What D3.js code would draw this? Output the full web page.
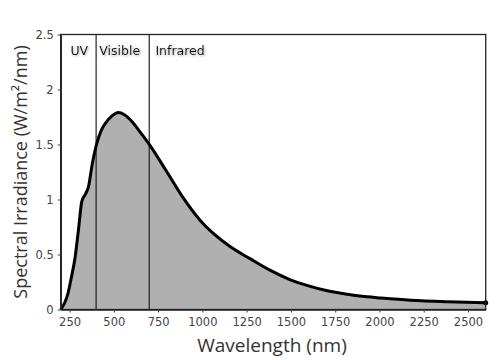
<!DOCTYPE html>
<html><head><meta charset="utf-8">
<script src="https://cdn.jsdelivr.net/npm/d3@7"></script>
<style>body{margin:0;background:#fff}svg{display:block}</style>
</head><body><svg id="c" width="500" height="360"></svg>
<script>
const wavelengths = [200,225,240,260,281,300,319,340,356,379,404,430,451,490,526,560,602,650,705,800,894,988,1070,1158,1271,1384,1497,1600,1705,1836,1931,2006,2176,2383,2600];
const irradiance  = [0,0.07,0.14,0.29,0.47,0.72,0.98,1.05,1.11,1.33,1.51,1.63,1.69,1.76,1.79,1.77,1.71,1.61,1.49,1.25,1.01,0.81,0.68,0.57,0.46,0.355,0.27,0.215,0.17,0.135,0.115,0.105,0.085,0.071,0.062];
const xTicks = [250,500,750,1000,1250,1500,1750,2000,2250,2500];
const yTicks = [0,0.5,1,1.5,2,2.5];
const yTickLabels = ["0","0.5","1","1.5","2","2.5"];
const bandEdges = [400,700];
const bandLabels = ["UV","Visible","Infrared"];
const bandLabelAt = [255,418,735];

const svg = d3.select("#c");
const L=60.7,R=485.7,T=34.5,B=309.5;
const x = d3.scaleLinear().domain([200,2600]).range([L,R]);
const y = d3.scaleLinear().domain([0,2.5]).range([B,T]);
const data = wavelengths.map((w,i)=>({w, v:irradiance[i]}));

const defs = svg.append("defs");
const f = defs.append("filter").attr("id","glow").attr("x","-20%").attr("y","-40%").attr("width","140%").attr("height","180%");
f.append("feDropShadow").attr("dx",0.8).attr("dy",0.8).attr("stdDeviation",1).attr("flood-color","#888").attr("flood-opacity",0.8);

svg.append("path").datum(data)
  .attr("d", d3.area().x(d=>x(d.w)).y0(y(0)).y1(d=>y(d.v)).curve(d3.curveMonotoneX))
  .attr("fill","#b0b0b0");

bandEdges.forEach(b=>{
  svg.append("line").attr("x1",x(b)).attr("x2",x(b)).attr("y1",T).attr("y2",B)
    .attr("stroke","#222").attr("stroke-width",1.2);
});

svg.append("path").datum(data)
  .attr("d", d3.line().x(d=>x(d.w)).y(d=>y(d.v)).curve(d3.curveMonotoneX))
  .attr("fill","none").attr("stroke","#000").attr("stroke-width",3).attr("stroke-linejoin","round");

svg.append("circle").attr("cx",x(wavelengths[wavelengths.length-1])).attr("cy",y(irradiance[irradiance.length-1])).attr("r",2.5).attr("fill","#000");

svg.append("rect").attr("x",L).attr("y",T).attr("width",R-L).attr("height",B-T)
  .attr("fill","none").attr("stroke","#222").attr("stroke-width",1.3);

const xa = svg.append("g").attr("transform",`translate(0,${B})`)
  .call(d3.axisBottom(x).tickValues(xTicks).tickFormat(d3.format("d")).tickSize(3).tickSizeOuter(0));
xa.select(".domain").attr("stroke","#222").attr("stroke-width",1.5);
xa.selectAll(".tick line").attr("stroke","#444");
xa.selectAll("text").attr("font-family","DejaVu Sans").attr("font-size","11.5px").attr("fill","#444").attr("dy","0.9em");

const ya = svg.append("g").attr("transform",`translate(${L},0)`)
  .call(d3.axisLeft(y).tickValues(yTicks).tickFormat((d,i)=>yTickLabels[i]).tickSize(3).tickSizeOuter(0));
ya.select(".domain").attr("stroke","#222").attr("stroke-width",1.5);
ya.selectAll(".tick line").attr("stroke","#444");
ya.selectAll("text").attr("font-family","DejaVu Sans").attr("font-size","11.5px").attr("fill","#444").attr("dx","-1px");

bandLabels.forEach((t,i)=>{
  svg.append("text").attr("x",x(bandLabelAt[i])).attr("y",55).text(t)
    .attr("font-family","DejaVu Sans").attr("font-size","12.5px").attr("fill","#111")
    .attr("filter","url(#glow)");
});

svg.append("text").attr("x",272).attr("y",352).attr("text-anchor","middle")
  .attr("font-family","Open Sans").attr("font-size","19px").attr("fill","#333").text("Wavelength (nm)");
svg.append("text").attr("transform","translate(27,172) rotate(-90)").attr("text-anchor","middle")
  .attr("font-family","Open Sans").attr("font-size","18px").attr("fill","#333").text("Spectral Irradiance (W/m²/nm)");
</script></body></html>
